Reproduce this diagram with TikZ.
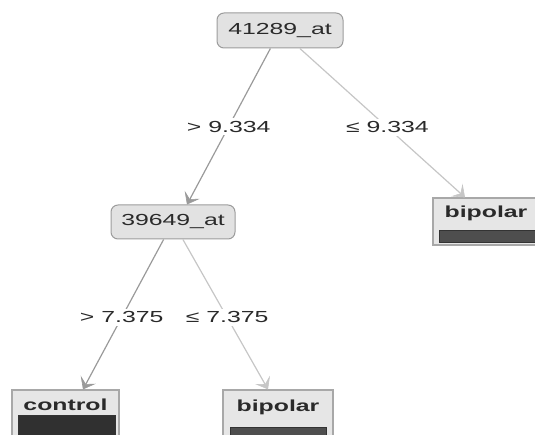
\documentclass[tikz,border=0pt]{standalone}
\usepackage{fontspec}
\setmainfont{Liberation Sans}
\newfontfamily\treefont[FakeStretch=1.55]{Liberation Sans}
\usetikzlibrary{arrows.meta}
\definecolor{nodefill}{HTML}{E2E2E2}
\definecolor{nodeborder}{HTML}{9C9C9C}
\definecolor{leaffill}{HTML}{E6E6E6}
\definecolor{leafborder}{HTML}{A8A8A8}
\definecolor{txt}{HTML}{2A2A2A}
\definecolor{edgedark}{HTML}{9A9A9A}
\definecolor{edgelight}{HTML}{C6C6C6}
\definecolor{barA}{HTML}{303030}
\definecolor{barB}{HTML}{4E4E4E}
\begin{document}
\begin{tikzpicture}[x=1pt,y=-1pt,
  split/.style={draw=nodeborder, line width=1pt, fill=nodefill, rounded corners=7pt,
    inner sep=0pt, text=txt, font=\treefont\fontsize{16}{19}\selectfont},
  leafbox/.style={draw=leafborder, line width=1.2pt, fill=leaffill, inner sep=0pt},
  leaftext/.style={anchor=base, inner sep=0pt, text=txt, font=\treefont\bfseries\fontsize{16}{19}\selectfont},
  barbox/.style={draw=black!80, line width=0.8pt, inner sep=0pt},
  lbl/.style={fill=white, inner sep=3pt, text=txt, font=\treefont\fontsize{16}{19}\selectfont},
  tip/.style={-{Stealth[length=11pt,width=17pt,inset=5pt,line width=0.6pt]}},
  edgeL/.style={tip, draw=edgedark, line width=1.2pt},
  edgeR/.style={tip, draw=edgelight, line width=1.2pt}
]
\useasboundingbox (0,0) rectangle (535,435);
\clip (0,0) rectangle (535,435);

% internal nodes
\node[split, minimum width=126pt, minimum height=35pt] (root) at (280,30.5) {41289\_at};
\node[split, minimum width=124pt, minimum height=34pt] (n2) at (173,222) {39649\_at};

% leaves
\node[leafbox, minimum width=110pt, minimum height=47pt] (lr) at (488,221.5) {};
\node[leaftext] (lrt) at (486,218) {bipolar};
\node[barbox, fill=barB, minimum width=98pt, minimum height=12pt] (lrb) at (488,236) {};

\node[leafbox, minimum width=107pt, minimum height=56pt] (lc) at (65.5,418) {};
\node[leaftext] (lct) at (65.5,410) {control};
\node[barbox, fill=barA, minimum width=97pt, minimum height=30pt] (lcb) at (66.5,430) {};

\node[leafbox, minimum width=110pt, minimum height=56pt] (lb) at (278,418) {};
\node[leaftext] (lbt) at (278,411) {bipolar};
\node[barbox, fill=barB, minimum width=96pt, minimum height=16pt] (lbb) at (278,435) {};

% arrow tip points
\coordinate (tn2) at ([xshift=14pt]n2.north);
\coordinate (tlr) at ([xshift=-23pt]lr.north);
\coordinate (tlc) at ([xshift=17.5pt]lc.north);
\coordinate (tlb) at ([xshift=-10pt]lb.north);

% edges
\draw[edgeL] (root) -- node[lbl, pos=0.5] (e1) {> 9.334} (tn2);
\draw[edgeR] (root) -- node[lbl, pos=0.53] (e2) {≤ 9.334} (tlr);
\draw[edgeL] (n2) -- node[lbl, pos=0.52] (e3) {> 7.375} (tlc);
\draw[edgeR] (n2) -- node[lbl, pos=0.52] (e4) {≤ 7.375} (tlb);
\end{tikzpicture}
\end{document}
